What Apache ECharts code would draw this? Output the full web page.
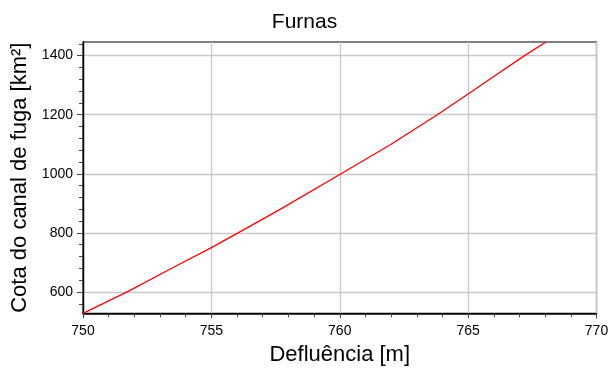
<!DOCTYPE html>
<html>
<head>
<meta charset="utf-8">
<script src="https://cdn.jsdelivr.net/npm/echarts@6/dist/echarts.min.js"></script>
<style>
html,body{margin:0;padding:0;background:#fff;}
#c{width:609px;height:368px;}
</style>
</head>
<body>
<div id="c"></div>
<script>
const titleText = 'Furnas';
const xName = 'Defluência [m]';
const yName = 'Cota do canal de fuga [km²]';
const xValues = [750, 751.8, 753.4, 755, 756.04, 757.66, 760.05, 762, 763.8, 765, 766.1, 767.2, 768.03];
const yValues = [528, 604, 678, 750, 800, 879, 1000, 1100, 1200, 1270, 1335, 1400, 1446];
const xTicks = [750, 755, 760, 765, 770];
const yTicks = [600, 800, 1000, 1200, 1400];
const yMinorTicks = [560, 640, 680, 720, 760, 840, 880, 920, 960, 1040, 1080, 1120, 1160, 1240, 1280, 1320, 1360, 1440];
const xRange = [750, 770];
const yRange = [528, 1446];

const FONT = '"Liberation Sans", Arial, Helvetica, sans-serif';
const chart = echarts.init(document.getElementById('c'), null, {renderer: 'canvas'});
const lineData = xValues.map((x, i) => [x, yValues[i]]);
const plain = v => String(v);

chart.setOption({
  animation: false,
  backgroundColor: '#fff',
  title: {
    text: titleText,
    left: 'center',
    top: 7,
    textStyle: {fontFamily: FONT, fontSize: 21, fontWeight: 'normal', color: '#000'}
  },
  grid: {
    left: 83, right: 12.5, top: 42, bottom: 54.7,
    containLabel: false,
    outerBoundsMode: 'none',
    show: true, borderColor: '#000', borderWidth: 1.2, backgroundColor: 'transparent'
  },
  xAxis: {
    type: 'value',
    min: xRange[0], max: xRange[1], interval: 5,
    name: xName, nameLocation: 'middle', nameGap: 31,
    nameTextStyle: {fontFamily: FONT, fontSize: 22, color: '#000'},
    axisLine: {show: true, onZero: false, lineStyle: {color: '#000', width: 1.6}},
    axisTick: {show: true, length: 5, lineStyle: {color: '#444', width: 1}, customValues: xTicks},
    minorTick: {show: true, splitNumber: 5, length: 4, lineStyle: {color: '#444', width: 1}},
    axisLabel: {fontFamily: FONT, fontSize: 14, color: '#000', margin: 11, customValues: xTicks, formatter: plain},
    splitLine: {show: true, lineStyle: {color: '#c8c8c8', width: 1.3}}
  },
  yAxis: [{
    type: 'value',
    min: yRange[0], max: yRange[1],
    name: yName, nameLocation: 'middle', nameGap: 47,
    nameTextStyle: {fontFamily: FONT, fontSize: 22, color: '#000'},
    axisLine: {show: true, onZero: false, lineStyle: {color: '#000', width: 1.4}},
    axisTick: {show: true, length: 6, lineStyle: {color: '#444', width: 1}, customValues: yTicks},
    axisLabel: {fontFamily: FONT, fontSize: 14, color: '#000', margin: 10, customValues: yTicks, formatter: plain},
    splitLine: {show: true, lineStyle: {color: '#c8c8c8', width: 1.3}}
  }, {
    type: 'value',
    position: 'left',
    min: yRange[0], max: yRange[1],
    axisLine: {show: false},
    axisTick: {show: true, length: 4, lineStyle: {color: '#444', width: 1}, customValues: yMinorTicks},
    axisLabel: {show: false},
    splitLine: {show: false}
  }],
  series: [{
    type: 'line',
    data: lineData,
    showSymbol: false,
    symbol: 'none',
    smooth: false,
    lineStyle: {color: '#ff0000', width: 1.3},
    clip: true
  }]
});
</script>
</body>
</html>
